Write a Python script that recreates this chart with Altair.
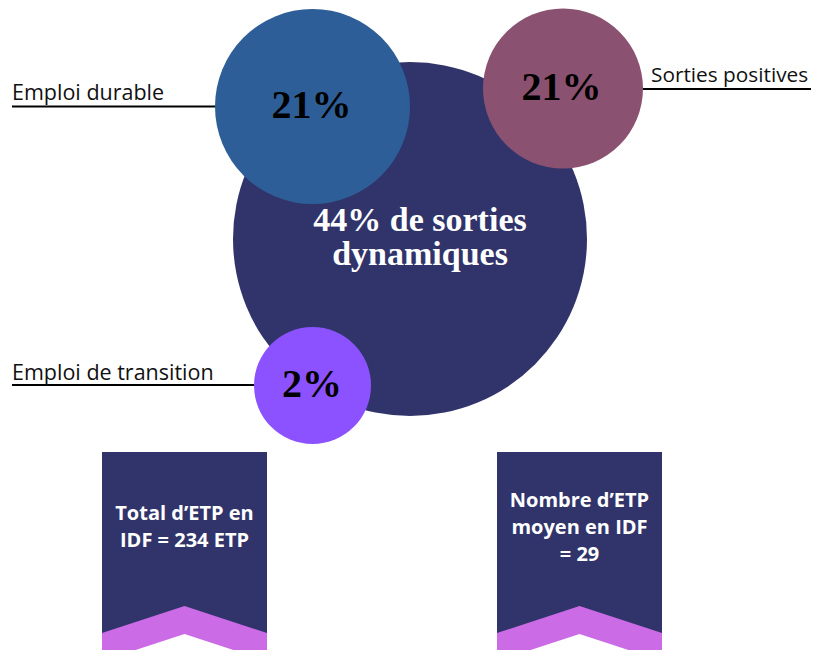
import altair as alt
import pandas as pd

# ---------------- data ----------------
side_labels = ["Emploi durable", "Sorties positives", "Emploi de transition"]
side_pcts = ["21%", "21%", "2%"]
centre_lines = ["44% de sorties", "dynamiques"]
banner_left_lines = ["Total d’ETP en", "IDF = 234 ETP"]
banner_right_lines = ["Nombre d’ETP", "moyen en IDF", "= 29"]

# ---------------- layout (pixel positions of the infographic) ----------------
W, H = 803, 642
X0, Y0 = 8, 8
NAVY = "#31346B"
circle_x = [410, 312.5, 563, 312.5]
circle_y = [239, 106.5, 88.5, 385.5]
circle_r = [177, 97.5, 80, 58.5]
circle_col = [NAVY, "#2E5E97", "#8A5270", "#8C52FF"]

xs = alt.Scale(domain=[X0, X0 + W], nice=False, zero=False)
ys = alt.Scale(domain=[Y0, Y0 + H], nice=False, zero=False, reverse=True)

def X(f="x"):
    return alt.X(f"{f}:Q", scale=xs, axis=None)

def Y(f="y"):
    return alt.Y(f"{f}:Q", scale=ys, axis=None, stack=None)

circles = pd.DataFrame({
    "x": circle_x, "y": circle_y,
    "size": [(2 * r) ** 2 for r in circle_r],
    "col": circle_col, "z": [0, 1, 2, 3],
})
circle_layer = alt.Chart(circles).mark_circle(opacity=1).encode(
    x=X(), y=Y(),
    size=alt.Size("size:Q", scale=None, legend=None),
    color=alt.Color("col:N", scale=None, legend=None),
    order=alt.Order("z:Q"),
)

rules = pd.DataFrame({"x": [12, 643, 12], "x2": [215, 815, 254], "y": [106.5, 89, 385]})
rule_layer = alt.Chart(rules).mark_rule(color="#000000", strokeWidth=2).encode(
    x=X(), x2="x2:Q", y=Y()
)

labels = pd.DataFrame({"x": [12, 651, 12], "y": [100, 82, 380], "t": side_labels,
                       "fs": [21.5, 20.8, 21.5]})
label_layer = alt.Chart(labels).mark_text(
    font="Open Sans", align="left", baseline="alphabetic", color="#111111"
).encode(x=X(), y=Y(), text="t:N", size=alt.Size("fs:Q", scale=None, legend=None))

pcts = pd.DataFrame({"x": [311.5, 561.5, 312], "y": [118, 100, 397], "t": side_pcts})
pct_layer = alt.Chart(pcts).mark_text(
    font="Liberation Serif", fontWeight="bold", fontSize=40, align="center",
    baseline="alphabetic", color="#000000"
).encode(x=X(), y=Y(), text="t:N")

centre = pd.DataFrame({"x": [420, 420], "y": [231, 265], "t": centre_lines})
centre_layer = alt.Chart(centre).mark_text(
    font="Liberation Serif", fontWeight="bold", fontSize=34, align="center",
    baseline="alphabetic", color="#FFFFFF"
).encode(x=X(), y=Y(), text="t:N")

# banners
b_left = [102, 497]
b_right = [267, 662]
rects = pd.DataFrame({"x": b_left, "x2": b_right, "y": [452, 452], "y2": [670, 670]})
rect_layer = alt.Chart(rects).mark_rect(color=NAVY).encode(
    x=X(), x2="x2:Q", y=Y(), y2="y2:Q"
)

band_rows, notch_rows = [], []
for i, (l, r) in enumerate(zip(b_left, b_right)):
    c = (l + r) / 2
    for xx, top in [(l, 633), (c, 606), (r, 633)]:
        band_rows.append({"b": i, "x": xx, "y": top, "y2": 670})
    for xx, top in [(l, 661), (c, 634), (r, 661)]:
        notch_rows.append({"b": i, "x": xx, "y": top, "y2": 680})
band_layer = alt.Chart(pd.DataFrame(band_rows)).mark_area(
    color="#CB6CE6", orient="vertical", opacity=1
).encode(x=X(), y=Y(), y2="y2:Q", detail="b:N")
notch_layer = alt.Chart(pd.DataFrame(notch_rows)).mark_area(
    color="#FFFFFF", orient="vertical", opacity=1
).encode(x=X(), y=Y(), y2="y2:Q", detail="b:N")

btext = pd.DataFrame({
    "x": [184.5] * len(banner_left_lines) + [579.5] * len(banner_right_lines),
    "y": [520, 547] + [507, 534, 561],
    "t": banner_left_lines + banner_right_lines,
})
btext_layer = alt.Chart(btext).mark_text(
    font="Open Sans", fontWeight="bold", fontSize=20, align="center",
    baseline="alphabetic", color="#FFFFFF"
).encode(x=X(), y=Y(), text="t:N")

chart = alt.layer(
    rule_layer, circle_layer, label_layer, pct_layer, centre_layer,
    rect_layer, band_layer, notch_layer, btext_layer,
).properties(
    width=W, height=H, autosize=alt.AutoSizeParams(type="none"), padding=0,
    background="#FFFFFF",
).configure_view(stroke=None)

chart.save("out.html", embed_options={"renderer": "svg", "actions": False})
